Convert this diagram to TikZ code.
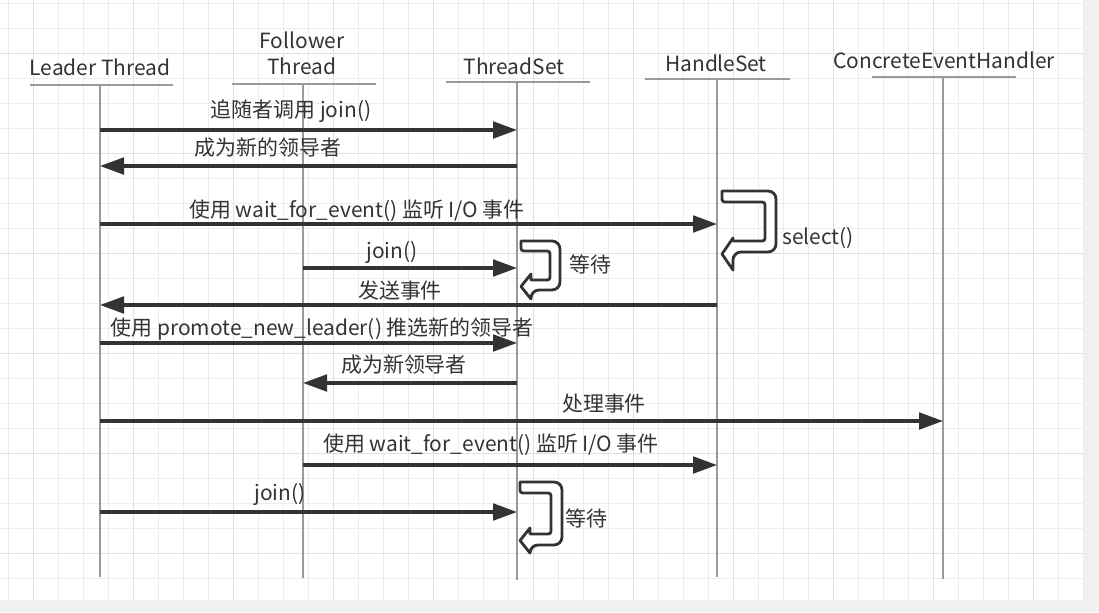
\documentclass[tikz,border=0pt]{standalone}
\usepackage{fontspec}
\setmainfont{Noto Sans CJK SC}
\usetikzlibrary{arrows.meta}
\definecolor{ink}{HTML}{333333}
\definecolor{lifegray}{HTML}{9A9A9A}
\definecolor{gridminor}{HTML}{EDEDED}
\definecolor{gridmajor}{HTML}{E0E0E0}
\definecolor{pane}{HTML}{F0F0F0}
\tikzset{
  msg/.style={draw=ink,line width=2.3pt,-{Triangle[length=18pt,width=12.5pt]}},
  lbl/.style={text=ink,inner sep=0pt,font=\fontsize{15.7}{19.5}\selectfont},
  lifeline/.style={draw=lifegray,line width=1.2pt},
  headline/.style={draw=lifegray,line width=1.5pt},
  loopbox/.style={draw=ink,line width=2.1pt,fill=white,line join=round},
  gridln/.style={draw=gridminor,line width=0.75pt},
  gridmj/.style={draw=gridmajor,line width=0.75pt}
}
\newcommand{\waitloop}[8]{%
  \draw[loopbox] (#1,#2) [rounded corners=6pt] -- (#3,#2) -- (#3,#5) -- ({#1+#8},#5)
    [sharp corners] -- ({#1+#8},#7) -- (#1,{(#6+#7)/2}) -- ({#1+#8},#6) -- ({#1+#8},{#5-#4})
    -- ({#1+#8+1},{#5-#4}) [rounded corners=2pt] -- ({#3-#4},{#5-#4}) -- ({#3-#4},{#2+#4})
    -- (#1,{#2+#4}) [sharp corners] -- cycle;}
\begin{document}
\begin{tikzpicture}[x=0.75pt,y=-0.75pt]
  \useasboundingbox (0,0) rectangle (1099,612);
  \fill[pane] (0,0) rectangle (1099,612);
  \fill[white] (0,0) rectangle (1083,600);
  \foreach \i in {0,...,43} \draw[gridln] ({8.3+25*\i},0) -- ({8.3+25*\i},600);
  \foreach \j in {0,...,23} \draw[gridln] (0,{3.3+25*\j}) -- (1083,{3.3+25*\j});
  \foreach \i in {1,5,...,41} \draw[gridmj] ({8.3+25*\i},0) -- ({8.3+25*\i},600);
  \foreach \j in {2,6,...,22} \draw[gridmj] (0,{3.3+25*\j}) -- (1083,{3.3+25*\j});

  \node[lbl] (lt) at (100,67) {Leader Thread};
  \node[lbl,align=center] (ft) at (302,53) {Follower\\Thread};
  \node[lbl] (ts) at (514,66) {ThreadSet};
  \node[lbl] (hs) at (716,63) {HandleSet};
  \node[lbl] (ceh) at (944,60) {ConcreteEventHandler};
  \draw[headline] (30,85) -- (173,85) (232,84) -- (376,84) (446,82) -- (590,82)
    (645,79) -- (790,79) (872,77) -- (1016,77);
  \coordinate (lt-t) at (100,85); \coordinate (lt-b) at (100,577);
  \coordinate (ft-t) at (303,84); \coordinate (ft-b) at (303,578);
  \coordinate (ts-t) at (517,82); \coordinate (ts-b) at (517,580);
  \coordinate (hs-t) at (717,79); \coordinate (hs-b) at (717,577);
  \coordinate (ceh-t) at (943,77); \coordinate (ceh-b) at (943,579);
  \draw[lifeline] (lt-t) -- (lt-b) (ft-t) -- (ft-b) (ts-t) -- (ts-b) (hs-t) -- (hs-b) (ceh-t) -- (ceh-b);

  \waitloop{722}{191}{776}{11}{252}{238}{270}{11}
  \waitloop{521}{241}{560}{10}{290}{274}{299}{10}
  \waitloop{520}{482}{562}{11}{545}{528}{553}{10}

  \draw[msg] (lt-t |- 0,130) -- (ts-t |- 0,130);
  \draw[msg] (ts-t |- 0,166) -- (lt-t |- 0,166);
  \draw[msg] (lt-t |- 0,224) -- (hs-t |- 0,224);
  \draw[msg] (ft-t |- 0,268) -- (ts-t |- 0,268);
  \draw[msg] (hs-t |- 0,305) -- (lt-t |- 0,305);
  \draw[msg] (lt-t |- 0,343) -- (ts-t |- 0,343);
  \draw[msg] (ts-t |- 0,383) -- (ft-t |- 0,383);
  \draw[msg] (lt-t |- 0,421) -- (ceh-t |- 0,421);
  \draw[msg] (ft-t |- 0,465) -- (hs-t |- 0,465);
  \draw[msg] (lt-t |- 0,512) -- (ts-t |- 0,512);

  \node[lbl] (l1) at (291,111) {追随者调用 join()};
  \node[lbl] (l2) at (268,148) {成为新的领导者};
  \node[lbl] (l3) at (357,211) {使用 wait\_for\_event() 监听 I/O 事件};
  \node[lbl] (l4) at (818,238) {select()};
  \node[lbl] (l5) at (392,252) {join()};
  \node[lbl] (l6) at (590,264) {等待};
  \node[lbl] (l7) at (400,291) {发送事件};
  \node[lbl] (l8) at (322,329) {使用 promote\_new\_leader() 推选新的领导者};
  \node[lbl] (l9) at (404,365) {成为新领导者};
  \node[lbl] (l10) at (604,404) {处理事件};
  \node[lbl] (l11) at (491,445) {使用 wait\_for\_event() 监听 I/O 事件};
  \node[lbl] (l12) at (280,494) {join()};
  \node[lbl] (l13) at (586,518) {等待};
\end{tikzpicture}
\end{document}
